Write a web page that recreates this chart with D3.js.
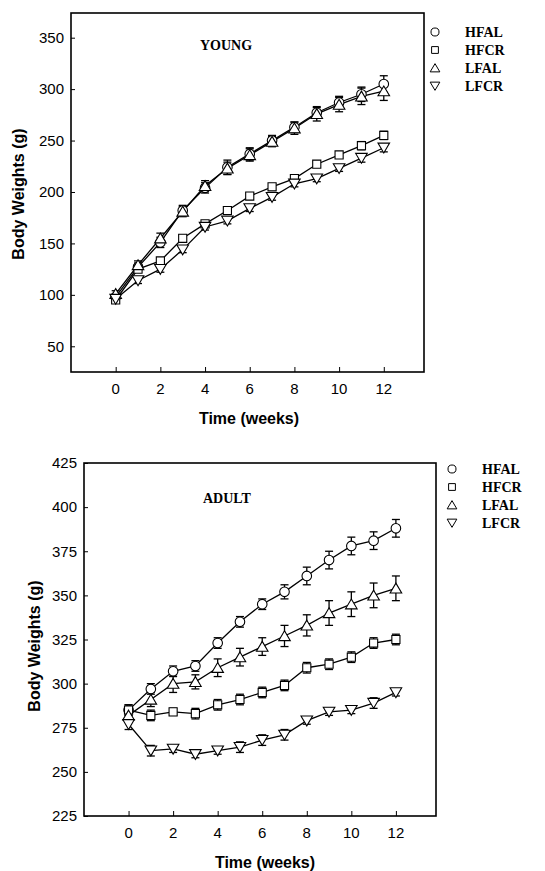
<!DOCTYPE html>
<html>
<head>
<meta charset="utf-8">
<script src="https://cdn.jsdelivr.net/npm/d3@7"></script>
<style>
  body { margin: 0; background: #fff; }
  svg { display: block; }
</style>
</head>
<body>
<svg id="chart" width="545" height="871"></svg>
<script>
// weeks on the x axis
const weeks = [0, 1, 2, 3, 4, 5, 6, 7, 8, 9, 10, 11, 12]
const groups = ["HFAL", "HFCR", "LFAL", "LFCR"]
const xTicks = [0, 2, 4, 6, 8, 10, 12]

// young rats, body weight (g) and error
const youngHFAL = [98, 127, 151, 182, 204, 224, 237, 250, 263, 277, 287, 295, 305]
const youngHFCR = [95, 125, 133, 155, 169, 182, 196, 205, 213, 227, 236, 245, 255]
const youngLFAL = [101, 129, 155, 181, 206, 223, 236, 249, 262, 276, 285, 293, 298]
const youngLFCR = [96, 114, 125, 144, 166, 172, 184, 195, 208, 213, 223, 233, 243]
const youngErrHFAL = [3, 4, 5, 5, 5, 7, 6, 5, 5, 5, 6, 7, 8]
const youngErrHFCR = [2, 3, 3, 3, 2, 3, 3, 3, 3, 3, 3, 4, 4]
const youngErrLFAL = [3, 4, 5, 5, 5, 6, 6, 5, 6, 7, 7, 8, 9]
const youngErrLFCR = [2, 3, 3, 3, 3, 3, 3, 3, 3, 3, 3, 4, 4]
const youngYTicks = [50, 100, 150, 200, 250, 300, 350]

// adult rats
const adultHFAL = [285, 297, 307, 310, 323, 335, 345, 352, 361, 370, 378, 381, 388]
const adultHFCR = [285, 282, 284, 283, 288, 291, 295, 299, 309, 311, 315, 323, 325]
const adultLFAL = [282, 291, 300, 301, 309, 315, 321, 327, 333, 340, 345, 350, 354]
const adultLFCR = [277, 262, 263, 260, 262, 264, 268, 271, 279, 284, 285, 289, 295]
const adultErrHFAL = [3, 3, 3, 3, 3, 3, 3, 4, 5, 5, 5, 5, 5]
const adultErrHFCR = [3, 3, 2, 3, 3, 3, 3, 3, 3, 3, 3, 3, 3]
const adultErrLFAL = [3, 4, 5, 4, 5, 5, 5, 6, 6, 7, 7, 7, 7]
const adultErrLFCR = [3, 3, 2, 2, 2, 3, 3, 3, 2, 2, 2, 3, 2]
const adultYTicks = [225, 250, 275, 300, 325, 350, 375, 400, 425]

const svg = d3.select("#chart")

// marker shapes for each group
const downTriangle = {
  draw(ctx, size) {
    const s = Math.sqrt(size / 0.433) / 2
    ctx.moveTo(0, s * 0.9)
    ctx.lineTo(s, -s * 0.8)
    ctx.lineTo(-s, -s * 0.8)
    ctx.closePath()
  }
}
const upTriangle = {
  draw(ctx, size) {
    const s = Math.sqrt(size / 0.433) / 2
    ctx.moveTo(0, -s * 0.9)
    ctx.lineTo(s, s * 0.8)
    ctx.lineTo(-s, s * 0.8)
    ctx.closePath()
  }
}
const shapes = [d3.symbolCircle, d3.symbolSquare, upTriangle, downTriangle]
const sizes = [72, 66, 58, 58]
const sans = "Liberation Sans, Arial, sans-serif"
const serif = "Liberation Serif, Times New Roman, serif"

function drawPanel(p) {
  const x = d3.scaleLinear().domain([-2, 13.8]).range([p.left, p.right])
  const y = d3.scaleLinear().domain(p.yDomain).range([p.bottom, p.top])

  const g = svg.append("g")

  // frame
  g.append("rect")
    .attr("x", p.left).attr("y", p.top)
    .attr("width", p.right - p.left).attr("height", p.bottom - p.top)
    .attr("fill", "none").attr("stroke", "#000").attr("stroke-width", 1.6)

  // axes with ticks pointing inside
  const yAxis = g.append("g").attr("transform", `translate(${p.left},0)`)
    .call(d3.axisRight(y).tickValues(p.yTicks).tickSize(4))
  yAxis.select(".domain").remove()
  yAxis.selectAll("text").remove()
  g.selectAll(".ylab").data(p.yTicks).enter().append("text")
    .attr("x", p.left - 7).attr("y", d => y(d)).attr("dy", "0.35em")
    .attr("text-anchor", "end")
    .style("font-family", sans).style("font-size", "15px")
    .text(d => d)

  const xAxis = g.append("g").attr("transform", `translate(0,${p.bottom})`)
    .call(d3.axisTop(x).tickValues(xTicks).tickSize(5))
  xAxis.select(".domain").remove()
  xAxis.selectAll("text").remove()
  g.selectAll(".xlab").data(xTicks).enter().append("text")
    .attr("x", d => x(d)).attr("y", p.bottom + 22)
    .attr("text-anchor", "middle")
    .style("font-family", sans).style("font-size", "15px")
    .text(d => d)

  // axis titles
  g.append("text")
    .attr("x", p.xTitleX).attr("y", p.bottom + 52)
    .attr("text-anchor", "middle")
    .style("font-family", sans).style("font-size", "16px").style("font-weight", "bold")
    .text("Time (weeks)")
  g.append("text")
    .attr("transform", `translate(${p.yTitleX},${p.yTitleY}) rotate(-90)`)
    .attr("text-anchor", "middle")
    .style("font-family", sans).style("font-size", "16px").style("font-weight", "bold")
    .text("Body Weights (g)")

  // panel label
  g.append("text")
    .attr("x", p.labelX).attr("y", p.labelY)
    .style("font-family", serif).style("font-size", "14px").style("font-weight", "bold")
    .text(p.label)

  const line = d3.line().x((d, i) => x(weeks[i])).y(d => y(d))

  p.series.forEach((vals, k) => {
    g.append("path").datum(vals).attr("d", line)
      .attr("fill", "none").attr("stroke", "#000").attr("stroke-width", 1.3)
  })

  // error bars
  p.series.forEach((vals, k) => {
    const err = p.errors[k]
    const eb = g.append("g").attr("stroke", "#000").attr("stroke-width", 1.3)
    vals.forEach((v, i) => {
      const cx = x(weeks[i])
      eb.append("line").attr("x1", cx).attr("x2", cx).attr("y1", y(v - err[i])).attr("y2", y(v + err[i]))
      eb.append("line").attr("x1", cx - 4).attr("x2", cx + 4).attr("y1", y(v - err[i])).attr("y2", y(v - err[i]))
      eb.append("line").attr("x1", cx - 4).attr("x2", cx + 4).attr("y1", y(v + err[i])).attr("y2", y(v + err[i]))
    })
  })

  // markers
  p.series.forEach((vals, k) => {
    g.selectAll(".m" + k).data(vals).enter().append("path")
      .attr("transform", (d, i) => `translate(${x(weeks[i])},${y(d)})`)
      .attr("d", d3.symbol().type(shapes[k]).size(sizes[k]))
      .attr("fill", "#fff").attr("stroke", "#000").attr("stroke-width", 1.1)
  })

  // legend
  groups.forEach((name, k) => {
    const ly = p.legendY + k * 18
    g.append("path")
      .attr("transform", `translate(${p.legendX},${ly})`)
      .attr("d", d3.symbol().type(shapes[k]).size(sizes[k] * 0.7))
      .attr("fill", "#fff").attr("stroke", "#000").attr("stroke-width", 1)
    g.append("text")
      .attr("x", p.legendX + 30).attr("y", ly).attr("dy", "0.35em")
      .style("font-family", serif).style("font-size", "14px").style("font-weight", "bold")
      .text(name)
  })
}

drawPanel({
  left: 71, right: 424, top: 13, bottom: 372,
  yDomain: [25, 374], yTicks: youngYTicks,
  series: [youngHFAL, youngHFCR, youngLFAL, youngLFCR],
  errors: [youngErrHFAL, youngErrHFCR, youngErrLFAL, youngErrLFCR],
  label: "YOUNG", labelX: 200, labelY: 50,
  legendX: 435, legendY: 32,
  xTitleX: 249, yTitleX: 24, yTitleY: 194
})

drawPanel({
  left: 84, right: 436, top: 463, bottom: 816,
  yDomain: [225, 425], yTicks: adultYTicks,
  series: [adultHFAL, adultHFCR, adultLFAL, adultLFCR],
  errors: [adultErrHFAL, adultErrHFCR, adultErrLFAL, adultErrLFCR],
  label: "ADULT", labelX: 203, labelY: 503,
  legendX: 452, legendY: 469,
  xTitleX: 265, yTitleX: 40, yTitleY: 646
})
</script>
</body>
</html>
